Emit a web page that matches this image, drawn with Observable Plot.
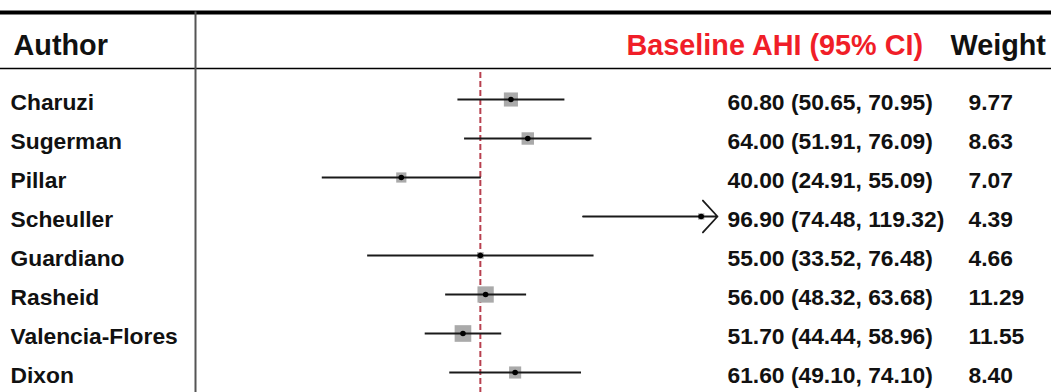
<!DOCTYPE html>
<html>
<head>
<meta charset="utf-8">
<script src="https://cdn.jsdelivr.net/npm/d3@7"></script>
<script src="https://cdn.jsdelivr.net/npm/@observablehq/plot@0.6"></script>
<style>
  html, body { margin: 0; padding: 0; background: #fff; }
</style>
</head>
<body>
<script>
// ---- data ----
const authors  = ["Charuzi", "Sugerman", "Pillar", "Scheuller", "Guardiano", "Rasheid", "Valencia-Flores", "Dixon"];
const estimate = [60.80, 64.00, 40.00, 96.90, 55.00, 56.00, 51.70, 61.60];
const lower    = [50.65, 51.91, 24.91, 74.48, 33.52, 48.32, 44.44, 49.10];
const upper    = [70.95, 76.09, 55.09, 119.32, 76.48, 63.68, 58.96, 74.10];
const weight   = [9.77, 8.63, 7.07, 4.39, 4.66, 11.29, 11.55, 8.40];
const pooled   = 55;           // dashed reference line
const xDomain  = [0, 100];     // plotted range; CIs beyond are clipped with an arrow
const headers  = {author: "Author", estimate: "Baseline AHI (95% CI)", weight: "Weight"};

const rows = authors.map((a, i) => ({
  author: a, est: estimate[i], lo: lower[i], hi: upper[i], w: weight[i]
}));
const fmt = v => v.toFixed(2);
const xMax = xDomain[1];

const font = "'Liberation Sans', Arial, Helvetica, sans-serif";
const rowFont = 22.8;
const headFont = 28.8;

const chart = Plot.plot({
  width: 1051,
  height: 392,
  marginTop: 12,
  marginRight: 0,
  marginBottom: 0,
  marginLeft: 0,
  style: {fontFamily: font, background: "#fff", overflow: "visible"},
  x: {domain: xDomain, range: [190, 717], axis: null},
  y: {type: "point", domain: authors, range: [97, 373], padding: 0, axis: null},
  r: {type: "linear", domain: [0, 11.55], range: [0, 9.4]},
  marks: [
    // table rules
    Plot.frame({anchor: "top", stroke: "#000", strokeWidth: 4}),
    Plot.frame({anchor: "top", insetTop: 56, stroke: "#000", strokeWidth: 1.5}),
    Plot.frame({anchor: "left", insetLeft: 195, stroke: "#555", strokeWidth: 2}),
    // pooled reference line
    Plot.ruleX([pooled], {insetTop: 60, stroke: "#b8404f", strokeWidth: 2, strokeDasharray: "6,3"}),
    // weight boxes
    Plot.dot(rows, {x: "est", y: "author", r: "w", symbol: "square", fill: "#aaaaaa"}),
    // confidence intervals
    Plot.link(rows.filter(d => d.hi <= xMax), {
      x1: "lo", x2: "hi", y1: "author", y2: "author", stroke: "#1a1a1a", strokeWidth: 2
    }),
    Plot.arrow(rows.filter(d => d.hi > xMax), {
      x1: "lo", x2: () => xMax, y1: "author", y2: "author",
      stroke: "#1a1a1a", strokeWidth: 1.8, headAngle: 95, headLength: 18
    }),
    // point estimates
    Plot.dot(rows, {x: "est", y: "author", r: 2.8, fill: "#000"}),
    // headers
    Plot.text([headers.author], {frameAnchor: "top-left", lineAnchor: "middle", dx: 13, dy: 33, fontSize: headFont, fontWeight: "bold", fill: "#111", textAnchor: "start"}),
    Plot.text([headers.estimate], {frameAnchor: "top-left", lineAnchor: "middle", dx: 626, dy: 33, fontSize: headFont, fontWeight: "bold", fill: "#f01e28", textAnchor: "start"}),
    Plot.text([headers.weight], {frameAnchor: "top-left", lineAnchor: "middle", dx: 950, dy: 33, fontSize: headFont, fontWeight: "bold", fill: "#111", textAnchor: "start"}),
    // row labels
    Plot.text(rows, {y: "author", text: "author", frameAnchor: "left", dx: 10, dy: 3, fontSize: rowFont, fontWeight: "bold", fill: "#111", textAnchor: "start"}),
    Plot.text(rows, {y: "author", text: d => `${fmt(d.est)} (${fmt(d.lo)}, ${fmt(d.hi)})`, frameAnchor: "left", dx: 727, dy: 3, fontSize: rowFont, fontWeight: "bold", fill: "#111", textAnchor: "start"}),
    Plot.text(rows, {y: "author", text: d => fmt(d.w), frameAnchor: "left", dx: 968, dy: 3, fontSize: rowFont, fontWeight: "bold", fill: "#111", textAnchor: "start"})
  ]
});
document.body.appendChild(chart);
</script>
</body>
</html>
